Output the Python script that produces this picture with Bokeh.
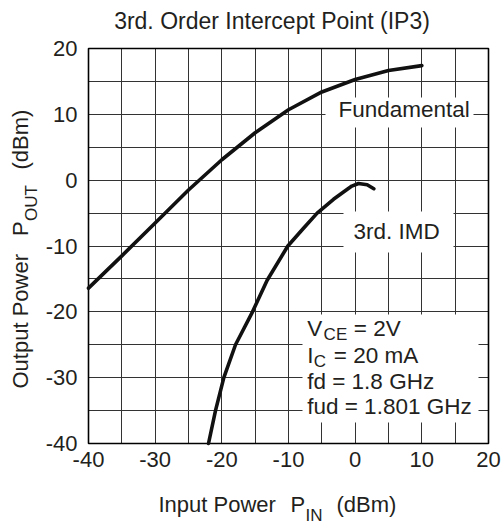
import math
from bokeh.plotting import figure
from bokeh.models import Label, FixedTicker, Grid
from bokeh.embed import file_html
from bokeh.resources import INLINE

# ---- data ----
fund_x = [-40, -35, -30, -25, -20, -15, -10, -5, 0, 5, 10]
fund_y = [-16.4, -11.5, -6.5, -1.5, 3.1, 7.2, 10.7, 13.4, 15.3, 16.65, 17.4]

imd_x = [-22, -20.95, -19.7, -17.95, -15.4, -13.2, -10.1, -7.75, -5.7, -3.25, -1.75, -0.5, 0.5, 1.8, 2.8]
imd_y = [-40, -35, -30, -25, -20, -15.2, -10, -7.3, -5, -2.9, -1.8, -0.9, -0.5, -0.7, -1.3]

x_ticks = [-40, -30, -20, -10, 0, 10, 20]
x_tick_labels = ["-40", "-30", "-20", "-10", "0", "10", "20"]
y_ticks = [-40, -30, -20, -10, 0, 10, 20]
y_tick_labels = ["-40", "-30", "-20", "-10", "0", "10", "20"]
grid_vals = [-40, -35, -30, -25, -20, -15, -10, -5, 0, 5, 10, 15, 20]

FONT = "Liberation Sans"
TXT = "#231f20"

W, H = 502, 528
# chart box placement on the canvas (pixels)
FL, FR, FT, FB = 88, 488, 48, 443
X0, X1, Y0, Y1 = -40, 20, -40, 20


def dx(px):
    return X0 + (px - FL) * (X1 - X0) / (FR - FL)


def dy(py):
    return Y1 - (py - FT) * (Y1 - Y0) / (FB - FT)


p = figure(frame_width=W, frame_height=H,
           x_range=(dx(0), dx(W)), y_range=(dy(H), dy(0)),
           output_backend="svg", toolbar_location=None,
           min_border=0, min_border_left=0, min_border_right=0,
           min_border_top=0, min_border_bottom=0)
p.title.visible = False
p.background_fill_color = "white"
p.border_fill_color = "white"
p.outline_line_color = None

for ax, ticks, labels, standoff in ((p.xaxis, x_ticks, x_tick_labels, 8),
                                    (p.yaxis, y_ticks, y_tick_labels, 11)):
    ax.fixed_location = -40
    ax.bounds = (X0, X1)
    ax.ticker = FixedTicker(ticks=ticks)
    ax.major_label_overrides = {t: s for t, s in zip(ticks, labels)}
    ax.major_label_text_font = FONT
    ax.major_label_text_font_size = "22px"
    ax.major_label_text_color = TXT
    ax.major_tick_in = 0
    ax.major_tick_out = 0
    ax.minor_tick_in = 0
    ax.minor_tick_out = 0
    ax.axis_line_color = None
    ax.major_label_standoff = standoff

GRID_COLOR = "#333333"
if "cross_bounds" in Grid.properties():
    for g in (p.xgrid, p.ygrid):
        g.ticker = FixedTicker(ticks=grid_vals)
        g.bounds = (X0, X1)
        g.cross_bounds = (Y0, Y1)
        g.grid_line_color = GRID_COLOR
        g.grid_line_width = 1
        g.grid_line_alpha = 1.0
else:
    p.xgrid.visible = False
    p.ygrid.visible = False
    p.segment(x0=grid_vals, x1=grid_vals, y0=[Y0] * len(grid_vals), y1=[Y1] * len(grid_vals),
              line_color=GRID_COLOR, line_width=1)
    p.segment(x0=[X0] * len(grid_vals), x1=[X1] * len(grid_vals), y0=grid_vals, y1=grid_vals,
              line_color=GRID_COLOR, line_width=1)

# white label boxes (canvas pixel layout)
boxes = [(325, 473, 97, 127), (343, 453, 211, 252), (302, 478, 314, 422)]
p.quad(left=[dx(b[0]) for b in boxes], right=[dx(b[1]) for b in boxes],
       top=[dy(b[2]) for b in boxes], bottom=[dy(b[3]) for b in boxes],
       fill_color="white", line_color=None)

# chart border
p.quad(left=[X0], right=[X1], bottom=[Y0], top=[Y1],
       fill_color=None, line_color="black", line_width=1.6)

p.line(fund_x, fund_y, line_color="#111111", line_width=3.6, line_join="round", line_cap="round")
p.line(imd_x, imd_y, line_color="#111111", line_width=3.6, line_join="round", line_cap="round")


def lab(text, px, py, size=22.5, align="left", angle=0.0, xo=0, yo=0):
    # (px, py): canvas pixel of the text start, vertically at the middle of the capitals
    p.add_layout(Label(x=dx(px), y=dy(py), text=text, x_offset=xo, y_offset=yo,
                       text_font=FONT, text_font_size=f"{size}px", text_color=TXT,
                       text_align=align, text_baseline="middle",
                       angle=angle, angle_units="rad"))


# title
lab("3rd. Order Intercept Point (IP3)", 271.5, 20, size=23, align="center")

# curve labels
lab("Fundamental", 338, 108.5)
lab("3rd. IMD", 353, 231)

# condition block
x0 = 306.7
lab("V", x0, 327.5)
lab("CE", x0 + 16.4, 327.5, size=17, yo=-6)
lab("= 2V", x0 + 46.6, 327.5)
lab("I", x0, 354.5)
lab("C", x0 + 6.5, 354.5, size=17, yo=-6)
lab("= 20 mA", x0 + 26.6, 354.5)
lab("fd = 1.8 GHz", x0, 380.5)
lab("fud = 1.801 GHz", x0, 405.5)

# x axis title
lab("Input Power", 158, 504, size=22)
lab("P", 290, 504, size=22)
lab("IN", 305, 504, size=17, yo=-11)
lab("(dBm)", 336, 504, size=22)

# y axis title (rotated)
A = math.pi / 2
lab("Output Power", 20, 388, size=22, angle=A)
lab("P", 20, 235.5, size=22, angle=A)
lab("OUT", 20, 220.5, size=17, angle=A, xo=11)
lab("(dBm)", 20, 169, size=22, angle=A)

open("out.html", "w").write(file_html(p, INLINE))
